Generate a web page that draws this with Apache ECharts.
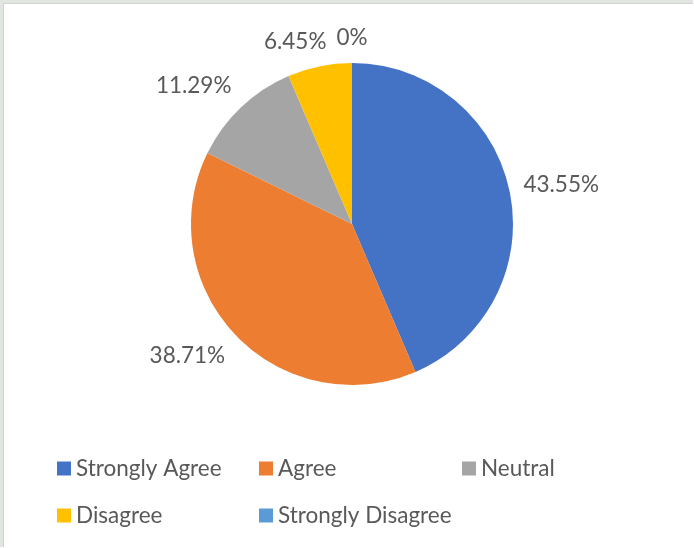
<!DOCTYPE html>
<html>
<head>
<meta charset="utf-8">
<title>Survey responses</title>
<script src="https://cdn.jsdelivr.net/npm/echarts@6/dist/echarts.min.js"></script>
<style>
  html, body { margin: 0; padding: 0; background: #ffffff; }
  #chart { position: absolute; left: 0; top: 0; width: 694px; height: 548px; }
  #frame {
    position: absolute; left: 0; top: 0; width: 690px; height: 544px;
    border-top: 3px solid #e1e6e1; border-left: 3px solid #e1e6e1;
    box-shadow: inset 1px 1px 0 #cfd4cf; pointer-events: none;
  }
</style>
</head>
<body>
<div id="chart"></div>
<div id="frame"></div>
<script>
// Response categories and their share of answers (percent)
const categories = ['Strongly Agree', 'Agree', 'Neutral', 'Disagree', 'Strongly Disagree'];
const shares = [43.55, 38.71, 11.29, 6.45, 0];
const colors = ['#4472C4', '#ED7D31', '#A5A5A5', '#FFC000', '#5B9BD5'];

const FONT = 'Lato, "Open Sans", sans-serif';
const FONT_SIZE = 22.5;
const TEXT = '#595959';
const CX = 352, CY = 224, R = 161;
const LABEL_GAP = 14;      // space between the pie edge and a label box
const LABEL_SPACING = 10;  // minimum horizontal room between neighbouring labels

const labelText = v => v + '%';

// Measure label widths so that neighbouring labels can be kept apart
const ctx = document.createElement('canvas').getContext('2d');
ctx.font = FONT_SIZE + 'px ' + FONT;
const labelW = shares.map(v => ctx.measureText(labelText(v)).width);
const labelH = FONT_SIZE;

// Place each label just outside its slice, on the slice's mid-angle ray
const total = shares.reduce((a, b) => a + b, 0);
const clamp = t => Math.max(-1, Math.min(1, t));
const labelPos = [];
let acc = 0;
shares.forEach((v, i) => {
  const a = ((acc + v / 2) / total) * 2 * Math.PI;
  acc += v;
  const dx = Math.sin(a), dy = -Math.cos(a);
  const px = CX + (R + LABEL_GAP) * dx;
  const py = CY + (R + LABEL_GAP) * dy;
  labelPos.push({
    x: px + clamp(2 * dx) * labelW[i] / 2,
    y: py + clamp(2 * dy) * labelH / 2
  });
});
// Push a label left when it runs into the following one
for (let i = shares.length - 1; i > 0; i--) {
  const cur = labelPos[i], prev = labelPos[i - 1];
  const vertical = Math.abs(cur.y - prev.y) < labelH;
  const prevRight = prev.x + labelW[i - 1] / 2;
  const curLeft = cur.x - labelW[i] / 2;
  if (vertical && prev.x < cur.x && prevRight > curLeft - LABEL_SPACING) {
    prev.x = curLeft - LABEL_SPACING - labelW[i - 1] / 2;
  }
}

// Legend laid out as a two-row grid
const legendSlots = [
  { left: 57, top: 457 },
  { left: 259, top: 457 },
  { left: 462, top: 457 },
  { left: 57, top: 504 },
  { left: 259, top: 504 }
];

const chart = echarts.init(document.getElementById('chart'), null, { renderer: 'canvas' });
chart.setOption({
  animation: false,
  color: colors,
  legend: categories.map((name, i) => ({
    data: [name],
    left: legendSlots[i].left,
    top: legendSlots[i].top,
    icon: 'rect',
    itemWidth: 14,
    itemHeight: 14,
    padding: 0,
    selectedMode: false,
    textStyle: { fontFamily: FONT, fontSize: FONT_SIZE, color: TEXT }
  })),
  series: [{
    type: 'pie',
    center: [CX, CY],
    radius: R,
    startAngle: 90,
    clockwise: true,
    avoidLabelOverlap: false,
    itemStyle: { borderWidth: 0 },
    label: {
      show: true,
      position: 'outside',
      formatter: p => labelText(p.value),
      fontFamily: FONT,
      fontSize: FONT_SIZE,
      color: TEXT
    },
    labelLine: { show: false },
    labelLayout: function (p) {
      const pos = labelPos[p.dataIndex];
      return { x: pos.x, y: pos.y, align: 'center', verticalAlign: 'middle' };
    },
    emphasis: { disabled: true },
    data: categories.map((name, i) => ({ name, value: shares[i] }))
  }]
});
</script>
</body>
</html>
